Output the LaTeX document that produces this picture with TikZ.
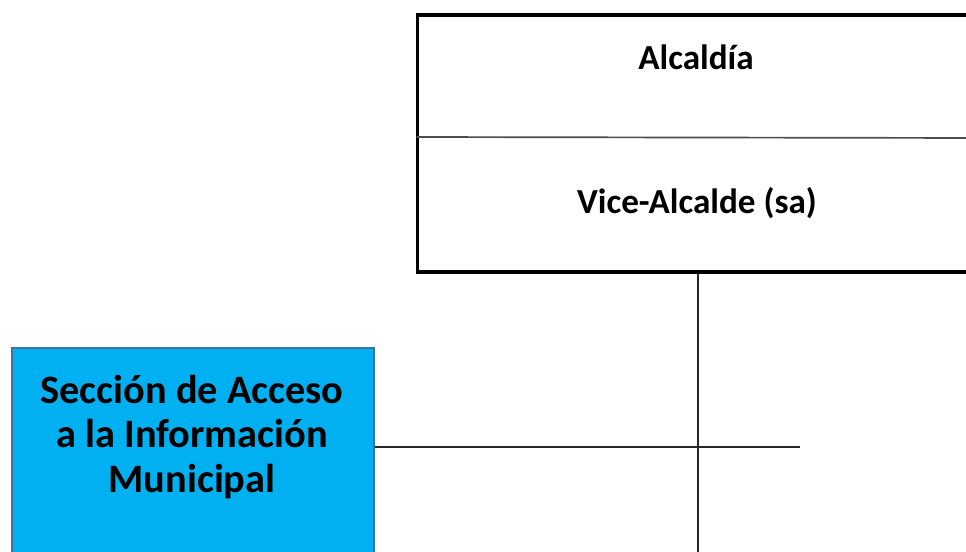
\documentclass[tikz,border=0pt]{standalone}
\usepackage{fontspec}
\setmainfont{Carlito}
\usetikzlibrary{positioning}
\definecolor{celeste}{HTML}{00B0F0}
\definecolor{bordeazul}{HTML}{41719C}
\begin{document}
\begin{tikzpicture}[x=0.025cm,y=-0.025cm,semithick]

  \tikzstyle{jefe}=[rectangle,draw,line width=2.2pt,minimum width=13.95cm,
                    minimum height=6.425cm]
  \tikzstyle{seccionbox}=[rectangle,draw=bordeazul,fill=celeste,line width=1.3pt,
                    minimum width=9.05cm,minimum height=6.3cm]
  \tikzstyle{titulo}=[font=\bfseries\fontsize{25}{29}\selectfont]
  \tikzstyle{linea}=[line width=1.2pt,black!85]

  \useasboundingbox (0,0) rectangle (966,552);
  \clip (0,0) rectangle (966,552);

  \node[jefe] (alcaldia) at (697,143.5) {};
  \node[titulo] (nalc) at (696,57) {Alcaldía};
  \node[titulo] (nvice) at (697,203) {Vice-Alcalde (sa)};
  \draw[linea,black!70] (alcaldia.west |- 0,137) -- (alcaldia.east |- 0,138);

  \node[seccionbox] (seccion) at (193,474) {};
  \node[align=center,font=\bfseries\fontsize{28.7}{31.5}\selectfont]
       (nsec) at (192,437) {Sección de Acceso\\a la Información\\Municipal};

  \coordinate (fin) at (698,552);
  \coordinate (cruce) at (800,447);
  \draw[linea] (alcaldia.south -| fin) -- (fin);
  \draw[linea] (seccion.east |- cruce) -- (cruce);
\end{tikzpicture}
\end{document}
